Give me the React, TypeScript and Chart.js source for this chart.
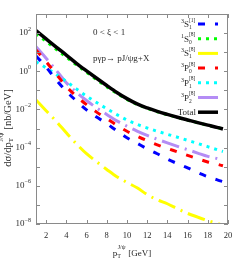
import React, { useEffect, useRef } from "react";
import { Chart, registerables } from "chart.js";
Chart.register(...registerables);

// pT^{J/psi} [GeV]
const pT = [1, 2, 3, 4, 5, 6, 7, 8, 9, 10, 11, 12, 13, 14, 15, 16, 17, 18, 19, 19.5];
// dsigma/dpT [nb/GeV]
const s3S1c1 = [6.3, 1.66, 0.355, 0.089, 0.0282, 0.00955, 0.00398, 0.00182, 7.6e-4, 3.3e-4, 1.7e-4, 8.7e-5, 4.8e-5, 2.5e-5, 1.45e-5, 8.7e-6, 4.9e-6, 3.0e-6, 2.0e-6, 1.66e-6];
const s1S0c8 = [93, 37, 14.1, 5.5, 2.14, 0.89, 0.363, 0.155, 0.069, 0.0335, 0.0185, 0.0115, 0.00759, 0.00537, 0.0038, 0.00275, 0.002, 0.00148, 0.0011, 9.3e-4];
const s3S1c8 = [0.0316, 0.0085, 0.0024, 6.0e-4, 1.58e-4, 4.8e-5, 1.82e-5, 7.2e-6, 3.0e-6, 1.51e-6, 7.9e-7, 3.5e-7, 1.86e-7, 1.15e-7, 6.3e-8, 3.6e-8, 2.3e-8, 1.51e-8, 1.05e-8, 8.3e-9];
const s3P0c8 = [13.2, 3.16, 0.708, 0.158, 0.049, 0.0178, 0.00724, 0.00331, 0.00148, 7.2e-4, 4.0e-4, 2.3e-4, 1.41e-4, 9.1e-5, 6.0e-5, 3.9e-5, 2.63e-5, 1.78e-5, 1.32e-5, 1.12e-5];
const s3P1c8 = [3.16, 1.51, 0.676, 0.295, 0.12, 0.05, 0.0229, 0.011, 0.00537, 0.00282, 0.00166, 0.00107, 7.2e-4, 5.0e-4, 3.5e-4, 2.4e-4, 1.66e-4, 1.12e-4, 7.6e-5, 6.3e-5];
const s3P2c8 = [19.1, 4.8, 1.12, 0.251, 0.0794, 0.0295, 0.012, 0.0055, 0.00251, 0.00132, 7.4e-4, 4.4e-4, 2.75e-4, 1.78e-4, 1.17e-4, 7.8e-5, 5.2e-5, 3.5e-5, 2.63e-5, 2.24e-5];
const total = [135, 50, 18.6, 7.1, 2.63, 1.05, 0.43, 0.18, 0.078, 0.037, 0.0195, 0.012, 0.00794, 0.0055, 0.00389, 0.00282, 0.00204, 0.00151, 0.00112, 9.5e-4];

const xTicks = [2, 4, 6, 8, 10, 12, 14, 16, 18, 20];
const yTickExps = [2, 0, -2, -4, -6, -8];
const yMinorExps = [3, 2, 1, 0, -1, -2, -3, -4, -5, -6, -7, -8];

type Entry = { pre: string; base: string; sub: string; sup: string; color: string; dash: number[]; width: number };
const legendEntries: Entry[] = [
  { pre: "3", base: "S", sub: "1", sup: "[1]", color: "#0000ff", dash: [7, 10], width: 3 },
  { pre: "1", base: "S", sub: "0", sup: "[8]", color: "#00ff00", dash: [3, 5], width: 3 },
  { pre: "3", base: "S", sub: "1", sup: "[8]", color: "#ffff00", dash: [], width: 3 },
  { pre: "3", base: "P", sub: "0", sup: "[8]", color: "#ff0000", dash: [7, 10], width: 3 },
  { pre: "3", base: "P", sub: "1", sup: "[8]", color: "#00ffff", dash: [3, 5], width: 3 },
  { pre: "3", base: "P", sub: "2", sup: "[8]", color: "#b48cf5", dash: [], width: 3 },
  { pre: "", base: "Total", sub: "", sup: "", color: "#000000", dash: [], width: 3.5 },
];

const FONT = "'Liberation Serif', 'DejaVu Serif', serif";
const TXT = "#2a2a2a";

const mk = (data: number[]) => pT.map((x, i) => ({ x, y: data[i] }));

const decor = {
  id: "decor",
  afterDraw(chart: any) {
    const { ctx, chartArea: a, scales } = chart;
    const xs = scales.x;
    const ys = scales.y;
    ctx.save();
    // frame
    ctx.strokeStyle = "#8a8a8a";
    ctx.lineWidth = 1;
    ctx.setLineDash([]);
    ctx.strokeRect(a.left + 0.5, a.top + 0.5, a.right - a.left - 1, a.bottom - a.top - 1);
    // inward ticks
    ctx.beginPath();
    xTicks.forEach((t) => {
      const px = Math.round(xs.getPixelForValue(t)) + 0.5;
      ctx.moveTo(px, a.bottom); ctx.lineTo(px, a.bottom - 4);
      ctx.moveTo(px, a.top); ctx.lineTo(px, a.top + 4);
    });
    yMinorExps.forEach((e) => {
      const py = Math.round(ys.getPixelForValue(Math.pow(10, e))) + 0.5;
      ctx.moveTo(a.left, py); ctx.lineTo(a.left + 4, py);
      ctx.moveTo(a.right, py); ctx.lineTo(a.right - 4, py);
    });
    ctx.stroke();

    ctx.fillStyle = TXT;
    // x tick labels
    ctx.font = `8.5px ${FONT}`;
    ctx.textAlign = "center";
    ctx.textBaseline = "middle";
    xTicks.forEach((t) => {
      ctx.fillText(String(t), xs.getPixelForValue(t), a.bottom + 12);
    });
    // y tick labels
    yTickExps.forEach((e) => {
      const py = ys.getPixelForValue(Math.pow(10, e));
      const ex = e < 0 ? "\u2212" + Math.abs(e) : String(e);
      ctx.font = `6px ${FONT}`;
      const we = ctx.measureText(ex).width;
      const xr = a.left - 5;
      ctx.textAlign = "left";
      ctx.textBaseline = "middle";
      ctx.fillText(ex, xr - we, py - 4);
      ctx.font = `9px ${FONT}`;
      ctx.textAlign = "right";
      ctx.fillText("10", xr - we, py);
    });

    // axis titles
    const drawPT = (x0: number, y0: number, lead: string, trail: string, fs: number) => {
      const ss = Math.round(fs * 0.68 * 10) / 10;
      ctx.textAlign = "left";
      ctx.textBaseline = "alphabetic";
      ctx.font = `${fs}px ${FONT}`;
      const w1 = ctx.measureText(lead).width;
      ctx.font = `${ss}px ${FONT}`;
      const wsub = ctx.measureText("T").width;
      const wsup = ctx.measureText("J/\u03c8").width;
      ctx.font = `${fs}px ${FONT}`;
      const w3 = ctx.measureText(trail).width;
      const wt = w1 + Math.max(wsub, wsup) + 1 + w3;
      let x = x0 - wt / 2;
      ctx.fillText(lead, x, y0);
      x += w1;
      ctx.font = `${ss}px ${FONT}`;
      ctx.fillText("T", x, y0 + 2);
      ctx.fillText("J/\u03c8", x + 0.5, y0 - fs * 0.78);
      x += Math.max(wsub, wsup) + 1;
      ctx.font = `${fs}px ${FONT}`;
      ctx.fillText(trail, x, y0);
    };
    drawPT((a.left + a.right) / 2, 256, "p", " [GeV]", 9);
    ctx.save();
    ctx.translate(11, 128);
    ctx.rotate(-Math.PI / 2);
    drawPT(0, 0, "d\u03c3/dp", " [nb/GeV]", 10.5);
    ctx.restore();

    // annotations
    ctx.font = `9px ${FONT}`;
    ctx.textAlign = "left";
    ctx.textBaseline = "middle";
    ctx.fillText("0 < \u03be < 1", 93, 33);
    ctx.fillText("p\u03b3p\u2192 pJ/\u03c8g+X", 93, 59);

    // legend
    legendEntries.forEach((en, i) => {
      const y = 24 + i * 14.7;
      const xr = 196;
      ctx.textBaseline = "alphabetic";
      ctx.textAlign = "left";
      ctx.font = `9px ${FONT}`;
      const wb = ctx.measureText(en.base).width;
      ctx.font = `6px ${FONT}`;
      const wpre = en.pre ? ctx.measureText(en.pre).width : 0;
      const ws = Math.max(en.sub ? ctx.measureText(en.sub).width : 0, en.sup ? ctx.measureText(en.sup).width : 0);
      const wt = wpre + wb + ws;
      let x = xr - wt;
      const base = y + 3;
      if (en.pre) ctx.fillText(en.pre, x, base - 4);
      x += wpre;
      ctx.font = `9px ${FONT}`;
      ctx.fillText(en.base, x, base);
      x += wb;
      ctx.font = `5.5px ${FONT}`;
      if (en.sub) ctx.fillText(en.sub, x, base + 2);
      if (en.sup) ctx.fillText(en.sup, x, base - 5.5);
      // sample
      ctx.strokeStyle = en.color;
      ctx.lineWidth = en.width;
      ctx.setLineDash(en.dash);
      ctx.beginPath();
      ctx.moveTo(198, y);
      ctx.lineTo(218, y);
      ctx.stroke();
    });
    ctx.restore();
  },
};

export default function App() {
  const ref = useRef<HTMLCanvasElement | null>(null);
  useEffect(() => {
    if (!ref.current) return;
    const ds = (label: string, data: number[], color: string, dash: number[], width: number, order: number) => ({
      label,
      data: mk(data),
      borderColor: color,
      backgroundColor: color,
      borderWidth: width,
      borderDash: dash,
      borderCapStyle: "butt" as const,
      pointRadius: 0,
      fill: false,
      cubicInterpolationMode: "monotone" as const,
      order,
    });
    const chart = new Chart(ref.current, {
      type: "line",
      data: {
        datasets: [
          ds("3S1[1]", s3S1c1, "#0000ff", [7, 10], 3, 2),
          ds("1S0[8]", s1S0c8, "#00ff00", [3, 5], 3, 1),
          ds("3S1[8]", s3S1c8, "#ffff00", [18, 6, 2, 6], 3, 2),
          ds("3P0[8]", s3P0c8, "#ff0000", [7, 10], 3, 2),
          ds("3P1[8]", s3P1c8, "#00ffff", [3, 5], 3, 2),
          ds("3P2[8]", s3P2c8, "#b48cf5", [18, 6, 2, 6], 3, 2),
          ds("Total", total, "#000000", [], 3.5, 0),
        ],
      },
      options: {
        animation: false,
        responsive: false,
        devicePixelRatio: 1,
        layout: { padding: { top: 14, right: 12, left: 0, bottom: 0 } },
        plugins: { legend: { display: false }, tooltip: { enabled: false } },
        scales: {
          x: {
            type: "linear",
            min: 1,
            max: 20,
            grid: { display: false },
            border: { display: false },
            ticks: { display: false },
            afterFit: (s: any) => { s.height = 38; },
          },
          y: {
            type: "logarithmic",
            min: 1e-8,
            max: 1e3,
            grid: { display: false },
            border: { display: false },
            ticks: { display: false },
            afterFit: (s: any) => { s.width = 36; },
          },
        },
      },
      plugins: [decor],
    });
    return () => chart.destroy();
  }, []);
  return (
    <div style={{ position: "fixed", left: 0, top: 0, width: 240, height: 262, background: "#fff" }}>
      <canvas ref={ref} width={240} height={262} style={{ width: 240, height: 262, display: "block" }} />
    </div>
  );
}
